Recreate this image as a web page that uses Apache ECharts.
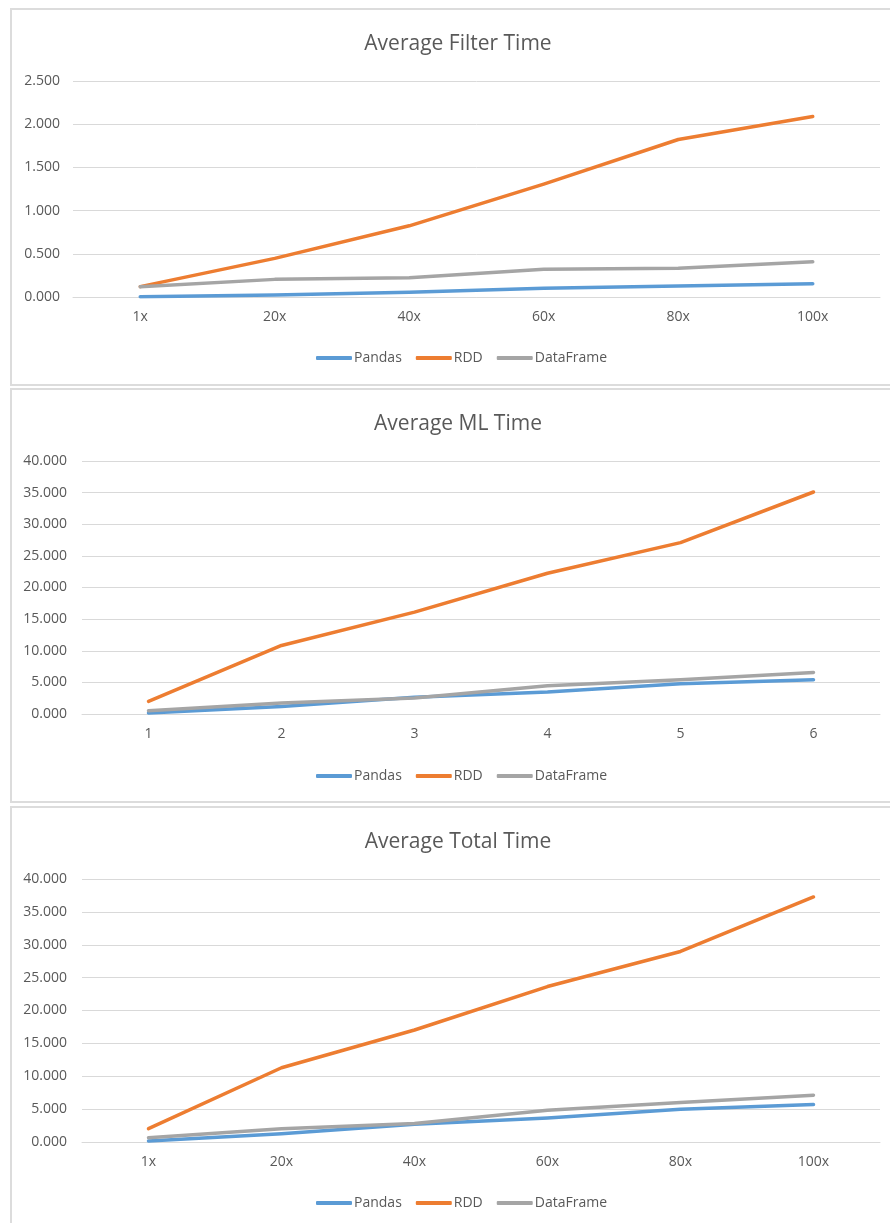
<!DOCTYPE html>
<html>
<head>
<meta charset="utf-8">
<script src="https://cdn.jsdelivr.net/npm/echarts@6/dist/echarts.min.js"></script>
<style>
  html, body { margin: 0; background: #fff; }
  #wrapper { position: relative; width: 890px; height: 1223px; overflow: hidden; }
  .frame { position: absolute; left: 10px; width: 960px; box-sizing: border-box;
           border-top: 2px solid #dcdcdc; border-left: 2px solid #dcdcdc; border-bottom: 2px solid #dcdcdc; }
  .cell { position: absolute; left: 0; width: 890px; }
</style>
</head>
<body>
<div id="wrapper">
  <div class="frame" style="top:8px;height:378px"></div>
  <div class="frame" style="top:388px;height:415px"></div>
  <div class="frame" style="top:806px;height:430px"></div>
  <div id="filter" class="cell" style="top:0;height:388px"></div>
  <div id="ml" class="cell" style="top:388px;height:415px"></div>
  <div id="total" class="cell" style="top:806px;height:417px"></div>
</div>

<script>
// x categories
let scaleCats = ["1x", "20x", "40x", "60x", "80x", "100x"];
let runCats = ["1", "2", "3", "4", "5", "6"];

// Average Filter Time
let filterPandas = [0.004, 0.023, 0.054, 0.100, 0.127, 0.154];
let filterRDD = [0.120, 0.447, 0.824, 1.306, 1.823, 2.089];
let filterDF = [0.120, 0.204, 0.223, 0.320, 0.332, 0.408];

// Average ML Time
let mlPandas = [0.16, 1.20, 2.63, 3.47, 4.79, 5.42];
let mlRDD = [2.00, 10.84, 16.10, 22.26, 27.10, 35.10];
let mlDF = [0.53, 1.74, 2.53, 4.47, 5.42, 6.58];

// Average Total Time
let totalPandas = [0.15, 1.27, 2.69, 3.66, 4.98, 5.69];
let totalRDD = [2.03, 11.29, 17.03, 23.64, 28.98, 37.27];
let totalDF = [0.66, 2.03, 2.80, 4.83, 6.00, 7.12];

let names = ["Pandas", "RDD", "DataFrame"];
let color = ["#5b9bd5", "#ed7d31", "#a5a5a5"];
let font = "'Open Sans', 'Noto Sans', sans-serif";
let textColor = "#595959";

function makeOption(cfg) {
  return {
    animation: false,
    color: color,
    title: {
      text: cfg.title,
      left: 453,
      textAlign: "center",
      top: cfg.titleTop,
      textStyle: { color: textColor, fontFamily: font, fontSize: 21, fontWeight: "normal" },
    },
    legend: {
      data: names,
      left: 311,
      top: cfg.legendTop,
      icon: "roundRect",
      itemWidth: 36,
      itemHeight: 4,
      itemGap: 14,
      textStyle: { color: textColor, fontFamily: font, fontSize: 14, padding: [0, 0, 0, -3] },
    },
    grid: cfg.grid,
    xAxis: {
      type: "category",
      data: cfg.cats,
      boundaryGap: true,
      axisLine: { lineStyle: { color: "#d9d9d9", width: 1 } },
      axisTick: { show: false },
      axisLabel: { color: textColor, fontFamily: font, fontSize: 14, margin: 13 },
    },
    yAxis: {
      type: "value",
      min: 0,
      max: cfg.max,
      interval: cfg.interval,
      axisLine: { show: false },
      axisTick: { show: false },
      splitLine: { lineStyle: { color: "#d9d9d9", width: 1 } },
      axisLabel: {
        color: textColor,
        fontFamily: font,
        fontSize: 14,
        margin: cfg.labelMargin,
        formatter: (v) => v.toFixed(3),
      },
    },
    series: cfg.data.map((d, i) => ({
      name: names[i],
      type: "line",
      data: d,
      showSymbol: false,
      lineStyle: { width: 3.5, cap: "round", join: "round" },
    })),
  };
}

function drawChart(id, cfg) {
  let myChart = echarts.init(document.getElementById(id));
  myChart.setOption(makeOption(cfg));
  window.addEventListener("resize", () => {
    myChart.resize();
  });
}

drawChart("filter", {
  title: "Average Filter Time",
  titleTop: 29,
  legendTop: 346,
  grid: { left: 73, right: 10, top: 81, bottom: 91 },
  cats: scaleCats,
  max: 2.5,
  interval: 0.5,
  labelMargin: 13,
  data: [filterPandas, filterRDD, filterDF],
});

drawChart("ml", {
  title: "Average ML Time",
  titleTop: 21,
  legendTop: 376,
  grid: { left: 82, right: 10, top: 73, bottom: 89 },
  cats: runCats,
  max: 40,
  interval: 5,
  labelMargin: 15,
  data: [mlPandas, mlRDD, mlDF],
});

drawChart("total", {
  title: "Average Total Time",
  titleTop: 21,
  legendTop: 385,
  grid: { left: 82, right: 10, top: 73, bottom: 81 },
  cats: scaleCats,
  max: 40,
  interval: 5,
  labelMargin: 15,
  data: [totalPandas, totalRDD, totalDF],
});
</script>
</body>
</html>
